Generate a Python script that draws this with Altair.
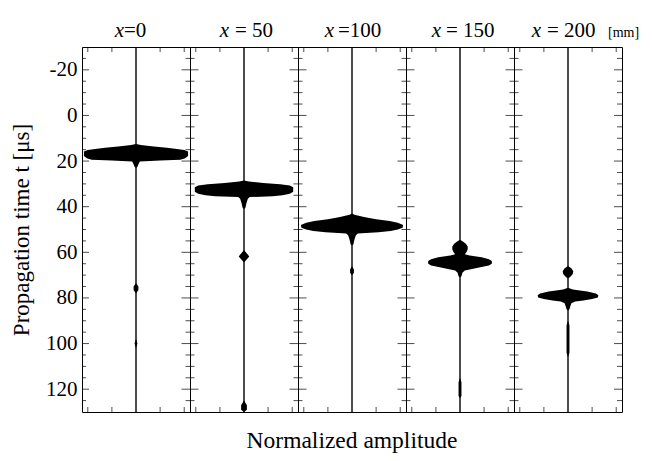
import altair as alt
import pandas as pd

# ---------------- data ----------------
positions_mm = [0, 50, 100, 150, 200]
title_pre = ["x", "x", "x", "x", "x"]
title_post = ["=0", "= 50", "=100", "= 150", "= 200"]
unit_label = "[mm]"

# envelope (half-width, normalized amplitude) of each waveform vs propagation time [us]
env_t_0 = [12.5, 13.0, 13.5, 14.2, 14.7, 15.1, 15.8, 17.8, 18.8, 19.4, 19.8, 20.2, 21.0, 22.5, 23.0,
           73.5, 75.0, 76.5, 78.0, 98.0, 100.0, 102.0]
env_a_0 = [0.0, 0.10, 0.32, 0.64, 0.85, 1.00, 1.08, 1.08, 1.02, 0.92, 0.50, 0.08, 0.06, 0.03, 0.0,
           0.0, 0.05, 0.05, 0.0, 0.0, 0.03, 0.0]

env_t_1 = [28.5, 29.0, 29.6, 30.2, 30.7, 31.5, 33.5, 34.3, 35.0, 35.4, 35.8, 36.5, 38.5, 40.5, 41.0,
           59.0, 60.5, 61.8, 63.0, 64.5, 125.0, 127.0, 129.0, 130.0]
env_a_1 = [0.0, 0.10, 0.40, 0.75, 0.95, 1.02, 1.02, 0.95, 0.80, 0.60, 0.12, 0.08, 0.05, 0.03, 0.0,
           0.0, 0.06, 0.11, 0.06, 0.0, 0.0, 0.06, 0.06, 0.0]

env_t_2 = [43.0, 43.5, 44.5, 45.5, 46.3, 47.0, 48.0, 49.2, 50.0, 50.7, 51.2, 51.7, 52.5, 54.5, 56.5,
           57.0, 66.0, 67.5, 69.0, 70.0]
env_a_2 = [0.0, 0.05, 0.25, 0.50, 0.78, 0.95, 1.06, 1.05, 0.95, 0.80, 0.55, 0.12, 0.08, 0.05, 0.03,
           0.0, 0.0, 0.04, 0.04, 0.0]

env_t_3 = [54.5, 55.3, 56.3, 57.5, 58.7, 59.8, 60.8, 61.4, 62.2, 63.0, 63.8, 65.0, 65.8, 66.6, 67.3,
           68.0, 69.0, 70.5, 71.0, 115.0, 117.0, 123.0, 124.0]
env_a_3 = [0.0, 0.06, 0.12, 0.16, 0.16, 0.14, 0.10, 0.20, 0.45, 0.60, 0.66, 0.66, 0.60, 0.42, 0.25,
           0.10, 0.05, 0.03, 0.0, 0.0, 0.03, 0.03, 0.0]

env_t_4 = [66.0, 67.0, 68.3, 69.5, 70.7, 71.5, 75.5, 76.3, 77.2, 78.0, 78.8, 79.8, 80.5, 81.1, 81.6,
           82.3, 83.5, 85.0, 85.5, 90.0, 92.0, 104.0, 106.0]
env_a_4 = [0.0, 0.07, 0.11, 0.10, 0.05, 0.0, 0.0, 0.10, 0.40, 0.58, 0.63, 0.62, 0.50, 0.32, 0.15,
           0.07, 0.05, 0.03, 0.0, 0.0, 0.03, 0.03, 0.0]

env_t = [env_t_0, env_t_1, env_t_2, env_t_3, env_t_4]
env_a = [env_a_0, env_a_1, env_a_2, env_a_3, env_a_4]

y_label_values = [-20, 0, 20, 40, 60, 80, 100, 120]
y_tick_times = [-25, -20, -15, -10, -5, 0, 5, 10, 15, 20, 25, 30, 35, 40, 45, 50, 55, 60, 65, 70,
                75, 80, 85, 90, 95, 100, 105, 110, 115, 120, 125]
x_tick_values = [-1.0, -0.5, 0.5, 1.0]
t_min, t_max = -30, 130

y_title = "Propagation time t [μs]"
x_title = "Normalized amplitude"

# ---------------- layout / style ----------------
W, H = 108, 365
FONT = "Liberation Serif"
x_end = [42, 39, 36, 35, 27]
post_start = [42, 45, 40, 40, 33]

yscale = alt.Scale(domain=[t_min, t_max], reverse=True, nice=False, zero=False)
xscale = alt.Scale(domain=[-1.12, 1.12], nice=False, zero=False)

tick_df = pd.DataFrame({"t": y_tick_times})
xt_df = pd.DataFrame({"a": x_tick_values})

panels = []
for i in range(5):
    if i == 0:
        yaxis = alt.Axis(values=y_label_values, ticks=False, domain=False, grid=False,
                         labelFont=FONT, labelFontSize=21, labelColor="black", labelPadding=5,
                         labelExpr="'' + datum.value", labelOverlap=False, labelFlush=False,
                         title=y_title, titleFont=FONT, titleFontSize=23,
                         titleFontWeight="normal", titleColor="black", titlePadding=12)
    else:
        yaxis = None

    env = pd.DataFrame({"t": env_t[i], "amp": env_a[i]})
    area = (alt.Chart(env)
            .transform_calculate(lo="-datum.amp")
            .mark_area(orient="horizontal", color="black", interpolate="linear")
            .encode(y=alt.Y("t:Q", scale=yscale, axis=yaxis),
                    x=alt.X("lo:Q", scale=xscale, axis=None),
                    x2=alt.X2("amp:Q")))

    line = (alt.Chart(pd.DataFrame({"t": [t_min], "t1": [t_max], "c": [0]}))
            .mark_rule(color="black", strokeWidth=1.4)
            .encode(x=alt.X("c:Q", scale=xscale, axis=None),
                    y=alt.Y("t:Q", scale=yscale, axis=yaxis),
                    y2=alt.Y2("t1:Q")))

    major = alt.datum.t % 20 == 0
    minor = alt.datum.t % 20 != 0

    layers = [area, line]

    # right edge ticks
    if i < 4:
        rmaj = (alt.Chart(tick_df).transform_filter(major)
                .mark_tick(orient="horizontal", color="black", thickness=1, size=17)
                .encode(y=alt.Y("t:Q", scale=yscale, axis=yaxis), x=alt.value(W)))
        rmin = (alt.Chart(tick_df).transform_filter(minor)
                .mark_tick(orient="horizontal", color="black", thickness=1, size=9)
                .encode(y=alt.Y("t:Q", scale=yscale, axis=yaxis), x=alt.value(W)))
    else:
        rmaj = (alt.Chart(tick_df).transform_filter(major)
                .mark_tick(orient="horizontal", color="black", thickness=1, size=8)
                .encode(y=alt.Y("t:Q", scale=yscale, axis=yaxis), x=alt.value(W - 4)))
        rmin = (alt.Chart(tick_df).transform_filter(minor)
                .mark_tick(orient="horizontal", color="black", thickness=1, size=5)
                .encode(y=alt.Y("t:Q", scale=yscale, axis=yaxis), x=alt.value(W - 2.5)))
    layers += [rmaj, rmin]
    if i == 0:
        lmaj = (alt.Chart(tick_df).transform_filter(major)
                .mark_tick(orient="horizontal", color="black", thickness=1, size=7)
                .encode(y=alt.Y("t:Q", scale=yscale, axis=yaxis), x=alt.value(3.5)))
        lmin = (alt.Chart(tick_df).transform_filter(minor)
                .mark_tick(orient="horizontal", color="black", thickness=1, size=4)
                .encode(y=alt.Y("t:Q", scale=yscale, axis=yaxis), x=alt.value(2)))
        layers += [lmaj, lmin]

    # top / bottom ticks
    ttop = (alt.Chart(xt_df).mark_tick(orient="vertical", color="black", thickness=1, size=5)
            .encode(x=alt.X("a:Q", scale=xscale, axis=None), y=alt.value(2.5)))
    tbot = (alt.Chart(xt_df).mark_tick(orient="vertical", color="black", thickness=1, size=5)
            .encode(x=alt.X("a:Q", scale=xscale, axis=None), y=alt.value(H - 2.5)))
    layers += [ttop, tbot]

    # panel title: italic x + upright rest
    tx = (alt.Chart(pd.DataFrame({"s": [title_pre[i]]}))
          .mark_text(font=FONT, fontSize=21, fontStyle="italic", align="right",
                     baseline="alphabetic", color="black")
          .encode(text="s:N", x=alt.value(x_end[i]), y=alt.value(-10)))
    tp = (alt.Chart(pd.DataFrame({"s": [title_post[i]]}))
          .mark_text(font=FONT, fontSize=21, align="left", baseline="alphabetic", color="black")
          .encode(text="s:N", x=alt.value(post_start[i]), y=alt.value(-10)))
    layers += [tx, tp]
    if i == 4:
        um = (alt.Chart(pd.DataFrame({"s": [unit_label]}))
              .mark_text(font=FONT, fontSize=14, align="left", baseline="alphabetic", color="black")
              .encode(text="s:N", x=alt.value(94), y=alt.value(-10)))
        layers.append(um)
    if i == 2:
        xt = (alt.Chart(pd.DataFrame({"s": [x_title]}))
              .mark_text(font=FONT, fontSize=23.5, align="center", baseline="alphabetic", color="black")
              .encode(text="s:N", x=alt.value(W / 2), y=alt.value(H + 36)))
        layers.append(xt)

    panels.append(alt.layer(*layers).properties(width=W, height=H))

chart = (alt.hconcat(*panels, spacing=0, bounds="flush")
         .properties(padding={"left": 10, "top": 19, "right": 5, "bottom": 5}, background="white")
         .configure_view(stroke="black", strokeWidth=1)
         .configure_concat(spacing=0))

chart.save("out.html", embed_options={"renderer": "svg", "actions": False})
